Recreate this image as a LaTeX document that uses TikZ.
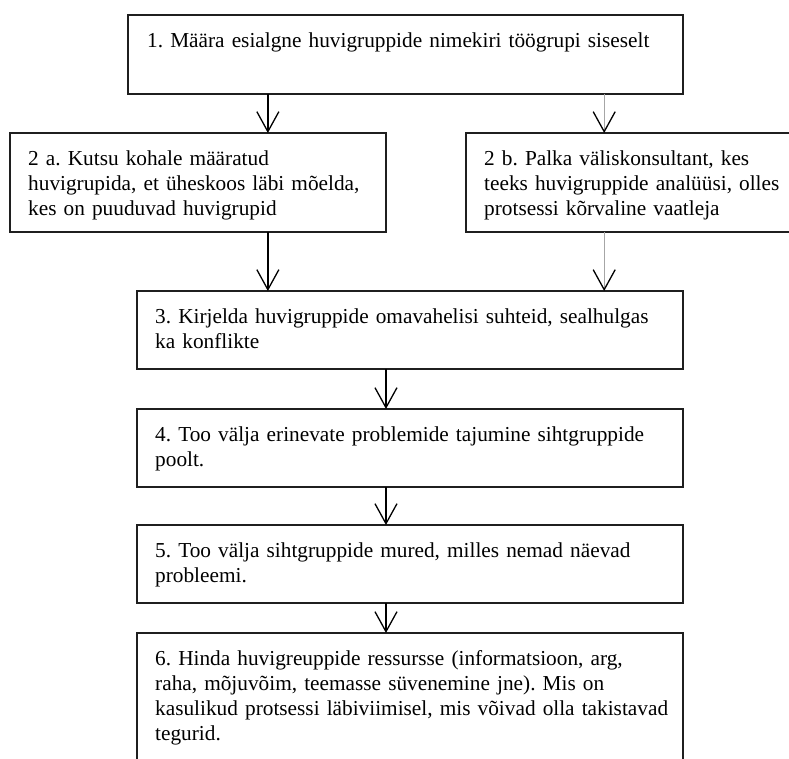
\documentclass[tikz,border=0pt]{standalone}
\usepackage{fontspec}
\setmainfont{Liberation Serif}
\usetikzlibrary{arrows.meta,calc}
\frenchspacing
\begin{document}
\begin{tikzpicture}[x=1pt,y=-1pt,
  box/.style={draw=black!88, line width=1.3pt, anchor=north west, inner sep=0pt, outer sep=0pt},
  txt/.style={anchor=base west, inner sep=0pt, text width=600pt, align=left, font=\fontsize{21.3}{25}\selectfont\frenchspacing},
  arr/.style={line width=1.3pt, draw=black, -{Straight Barb[length=20pt,width=22pt,line width=1.3pt]}},
  garr/.style={line width=1.3pt, draw=black!35, -{Straight Barb[length=20pt,width=22pt,line width=1.3pt,color=black]}}]
\clip (0,0) rectangle (789,758);
\fill[white] (0,0) rectangle (789,758);
% boxes
\node[box, minimum width=555pt, minimum height=79pt] (b1) at (128,15) {};
\node[box, minimum width=376pt, minimum height=99pt] (b2a) at (10,133) {};
\node[box, minimum width=340pt, minimum height=99pt] (b2b) at (466,133) {};
\node[box, minimum width=546pt, minimum height=78pt] (b3) at (137,291) {};
\node[box, minimum width=546pt, minimum height=78pt] (b4) at (137,409) {};
\node[box, minimum width=546pt, minimum height=78pt] (b5) at (137,525) {};
\node[box, minimum width=546pt, minimum height=170pt] (b6) at (137,633) {};
% texts
\node[txt] (t1) at ($(b1.north west)+(19,32)$) {1. Määra esialgne huvigruppide nimekiri töögrupi siseselt};
\node[txt] (t2a) at ($(b2a.north west)+(18,32)$) {2 a. Kutsu kohale määratud\\huvigrupida, et üheskoos läbi mõelda,\\kes on puuduvad huvigrupid};
\node[txt] (t2b) at ($(b2b.north west)+(18,32)$) {2 b. Palka väliskonsultant, kes\\teeks huvigruppide analüüsi, olles\\protsessi kõrvaline vaatleja};
\node[txt] (t3) at ($(b3.north west)+(18,32)$) {3. Kirjelda huvigruppide omavahelisi suhteid, sealhulgas\\ka konflikte};
\node[txt] (t4) at ($(b4.north west)+(18,32)$) {4. Too välja erinevate problemide tajumine sihtgruppide\\poolt.};
\node[txt] (t5) at ($(b5.north west)+(18,32)$) {5. Too välja sihtgruppide mured, milles nemad näevad\\probleemi.};
\node[txt] (t6) at ($(b6.north west)+(18,32)$) {6. Hinda huvigreuppide ressursse (informatsioon, arg,\\raha, mõjuvõim, teemasse süvenemine jne). Mis on\\kasulikud protsessi läbiviimisel, mis võivad olla takistavad\\tegurid.};
% arrow positions
\coordinate (a1) at ($(b1.south west)!0.252!(b1.south east)$);
\coordinate (a2) at ($(b1.south west)!0.858!(b1.south east)$);
\coordinate (a3) at ($(b3.south west)!0.456!(b3.south east)$);
% connectors
\draw[arr] (a1) -- (a1 |- b2a.north);
\draw[garr] (a2) -- (a2 |- b2b.north);
\draw[arr] (a1 |- b2a.south) -- (a1 |- b3.north);
\draw[garr] (a2 |- b2b.south) -- (a2 |- b3.north);
\draw[arr] (a3) -- (a3 |- b4.north);
\draw[arr] (a3 |- b4.south) -- (a3 |- b5.north);
\draw[arr] (a3 |- b5.south) -- (a3 |- b6.north);
\end{tikzpicture}
\end{document}
